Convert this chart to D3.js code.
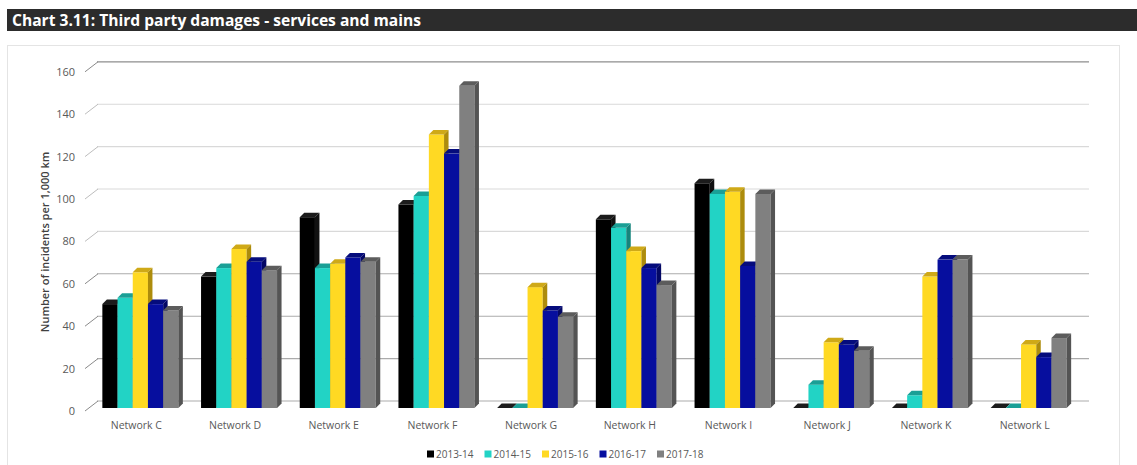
<!DOCTYPE html>
<html>
<head>
<meta charset="utf-8">
<script src="https://cdn.jsdelivr.net/npm/d3@7"></script>
<style>
  html, body { margin: 0; padding: 0; background: #fff; }
  svg { display: block; }
</style>
</head>
<body>
<svg id="chart" width="1137" height="465"></svg>
<script>
const categories = ["Network C","Network D","Network E","Network F","Network G","Network H","Network I","Network J","Network K","Network L"];
const seriesNames = ["2013-14","2014-15","2015-16","2016-17","2017-18"];
const v201314 = [49, 62, 90, 96, 0, 89, 106, 0, 0, 0];
const v201415 = [52, 66, 66, 100, 0, 85, 101, 11, 6, 0];
const v201516 = [64, 75, 68, 129, 57, 74, 102, 31, 62, 30];
const v201617 = [49, 69, 71, 120, 46, 66, 67, 30, 70, 24];
const v201718 = [46, 65, 69, 152, 43, 58, 101, 27, 70, 33];
const yTicks = [0, 20, 40, 60, 80, 100, 120, 140, 160];
const titleText = "Chart 3.11: Third party damages - services and mains";
const yTitle = "Number of incidents per 1,000 km";

const seriesValues = [v201314, v201415, v201516, v201617, v201718];
const colors = [
  {front: "#000000", top: "#1c1c1c", side: "#111111"},
  {front: "#22D3C5", top: "#1a9f96", side: "#16847c"},
  {front: "#FFD923", top: "#cfa917", side: "#ad8c0c"},
  {front: "#060E9E", top: "#050c7c", side: "#030764"},
  {front: "#808080", top: "#5c5c5c", side: "#545454"}
];

const svg = d3.select("#chart");

// title bar
svg.append("rect").attr("x", 7).attr("y", 9).attr("width", 1130).attr("height", 22).attr("fill", "#2c2c2c");
svg.append("text").attr("x", 12).attr("y", 26).attr("fill", "#ffffff")
  .attr("font-family", "'Open Sans', Lato, sans-serif").attr("font-weight", "bold").attr("font-size", "16px")
  .attr("textLength", 409).attr("lengthAdjust", "spacingAndGlyphs")
  .text(titleText);

// panel
svg.append("rect").attr("x", 7.5).attr("y", 45.5).attr("width", 1112).attr("height", 440)
  .attr("fill", "#ffffff").attr("stroke", "#e4e4e4");

// scales
const y = d3.scaleLinear().domain([0, 160]).range([408, 68.8]);
const x = d3.scaleBand().domain(categories).range([87, 1074]).paddingInner(0).paddingOuter(0);
const xs = d3.scaleBand().domain(seriesNames).range([0, 76]);
const backDx = 12, backDy = -7;
const dX = 4.5, dY = 4.5;

// back wall gridlines
function gridColor(v) {
  if (v === 160) return "#8e8e8e";
  if (v <= 60) return "#ababab";
  return "#d9d9d9";
}
svg.append("g").selectAll("line").data(yTicks).join("line")
  .attr("x1", 85 + backDx).attr("x2", 1089)
  .attr("y1", d => y(d) + backDy).attr("y2", d => y(d) + backDy)
  .attr("stroke", gridColor).attr("stroke-width", d => d === 160 ? 1.3 : 1.1);

// diagonal tick marks
svg.append("g").selectAll("line").data(yTicks).join("line")
  .attr("x1", 85).attr("x2", 85 + backDx + 1)
  .attr("y1", d => y(d) + 3).attr("y2", d => y(d) + backDy)
  .attr("stroke", d => (d === 160 || d <= 60) ? "#8a8a8a" : "#bdbdbd").attr("stroke-width", 1);

// y axis labels
const yAxisScale = d3.scaleLinear().domain([0, 160]).range([y(0) + 3, y(160) + 3]);
const yAxis = svg.append("g").attr("transform", "translate(78,0)")
  .call(d3.axisLeft(yAxisScale).tickValues(yTicks).tickSize(0).tickPadding(3));
yAxis.select(".domain").remove();
yAxis.selectAll("text").attr("fill", "#595959").attr("font-size", "11px")
  .attr("font-family", "'Open Sans', 'Noto Sans', sans-serif");

// y title
svg.append("text")
  .attr("transform", "translate(49,242) rotate(-90)")
  .attr("text-anchor", "middle")
  .attr("fill", "#404040").attr("font-size", "11px").attr("font-weight", "600")
  .attr("font-family", "'Open Sans', 'Noto Sans', sans-serif")
  .text(yTitle);

// bars
const barsG = svg.append("g");
categories.forEach((cat, ci) => {
  const groupX = x(cat) + x.bandwidth() / 2 - 38 + 4;
  seriesNames.forEach((s, si) => {
    const v = seriesValues[si][ci];
    const x0 = groupX + xs(s);
    const w = xs.bandwidth();
    const yt = y(v), yb = y(0);
    const c = colors[si];
    const g = barsG.append("g");
    if (yb - yt > 0) {
      g.append("rect").attr("x", x0).attr("y", yt).attr("width", w).attr("height", yb - yt).attr("fill", c.front);
    }
    g.append("path")
      .attr("d", `M${x0},${yt} L${x0 + dX},${yt - dY} L${x0 + w + dX},${yt - dY} L${x0 + w},${yt} Z`)
      .attr("fill", c.top);
    g.append("path")
      .attr("d", `M${x0 + w},${yt} L${x0 + w + dX},${yt - dY} L${x0 + w + dX},${yb - dY} L${x0 + w},${yb} Z`)
      .attr("fill", c.side);
  });
});

// x axis labels
const xAxis = svg.append("g").attr("transform", "translate(0,419)")
  .call(d3.axisBottom(x).tickSize(0).tickPadding(3));
xAxis.select(".domain").remove();
xAxis.selectAll("text").attr("fill", "#595959").attr("font-size", "10.5px")
  .attr("font-family", "'Open Sans', 'Noto Sans', sans-serif");

// legend
const legendX = d3.scalePoint().domain(seriesNames).range([427, 657]);
const leg = svg.append("g").selectAll("g").data(seriesNames).join("g")
  .attr("transform", d => `translate(${legendX(d)},454)`);
leg.append("rect").attr("x", 0).attr("y", -3.5).attr("width", 7).attr("height", 7)
  .attr("fill", (d, i) => colors[i].front);
leg.append("text").attr("x", 9).attr("y", 3.5).attr("fill", "#595959").attr("font-size", "10px")
  .attr("font-family", "'Open Sans', 'Noto Sans', sans-serif").text(d => d);
</script>
</body>
</html>
